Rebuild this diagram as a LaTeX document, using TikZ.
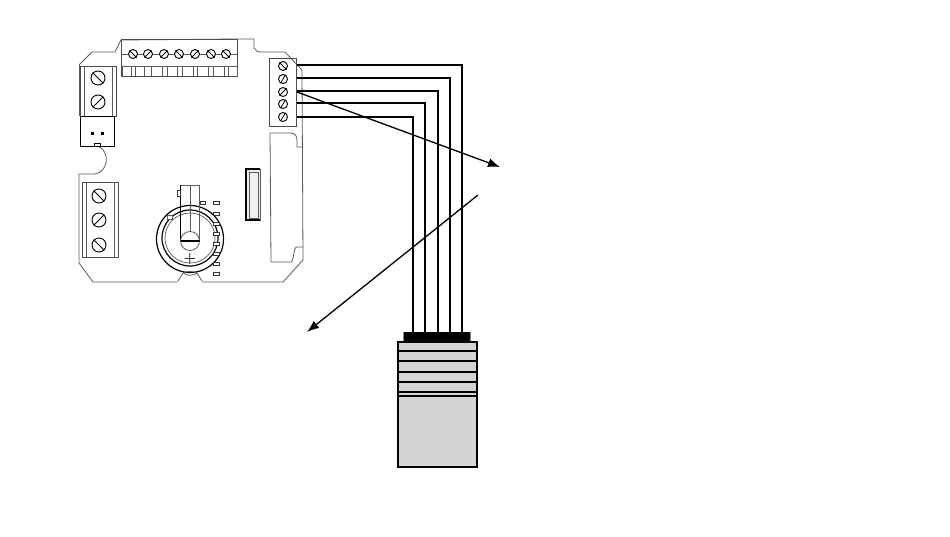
\documentclass[tikz,border=0pt]{standalone}
\usetikzlibrary{arrows.meta}
\definecolor{plug}{HTML}{D4D4D4}
\definecolor{edge}{HTML}{5A5A5A}
\tikzstyle{screw}=[circle,draw=black,fill=white,line width=0.9pt,inner sep=0pt,minimum size=14pt]
\tikzstyle{smallscrew}=[circle,draw=black,fill=white,line width=0.9pt,inner sep=0pt,minimum size=9pt]
\tikzstyle{outline}=[draw=edge,line width=0.8pt]
\tikzstyle{block}=[draw=black!70,line width=1pt]
\tikzstyle{wire}=[draw=black,line width=1.4pt]
\tikzstyle{pointer}=[draw=black,line width=1.3pt,-{Latex[length=12pt,width=9pt]}]
\tikzstyle{pad}=[draw=black!80,line width=0.8pt,fill=white]
\begin{document}
\begin{tikzpicture}[x=1pt,y=-1pt]
		\useasboundingbox (0,0) rectangle (950,536);

		% board
		\draw [outline] (79,65)--(92,52)--(115,52)--(121,40)--(237,39)--(254,39)--(254,48)
			.. controls (255,51) and (258,52) .. (262,52)--(285,52)--(302,70)--(303,260)--(283,282)--(202,282);
		\draw [outline] (178,282)--(93,282)--(79,263)--(79,174)--(95,174)
			.. controls (108,172) and (111,152) .. (98,146);
		\draw [outline] (79,65)--(79,116);
		\draw [outline] (270,133)--(291,133) .. controls (295,133) and (297,136) .. (297,140)--(297,147)--(303,147);
		\draw [outline] (270,133)--(271,262)--(291,262) .. controls (294,262) and (293,247) .. (297,247)--(303,247);

		% top terminal
		\draw [block] (121,39) rectangle (237,76);
		\draw [outline] (121,54)--(237,54);
		\draw [outline] (121,66)--(237,66);
		\foreach \xa/\xb in {122/131,135/144,151/162,167/177,182/193,197/208,213/224,228/237}
			\draw [draw=edge,line width=0.6pt] (\xa,76)--(\xa,66) (\xb,66)--(\xb,76);
		\foreach \sname/\sx/\sang in {t1/133/135,t2/148/45,t3/164/45,t4/179/135,t5/195/45,t6/211/135,t7/226/135}{
			\node (\sname) at (\sx,54) [smallscrew] {};
			\pgfmathtruncatemacro{\sopp}{\sang+180}
			\draw [line width=0.8pt] (\sname.\sang)--(\sname.\sopp);
		}

		% left terminals
		\draw [block] (80,66) rectangle (116,116);
		\draw [outline] (84,66)--(84,116);
		\draw [outline] (112,66)--(112,116);
		\draw [block] (82,182) rectangle (118,257);
		\draw [outline] (86,182)--(86,257);
		\draw [outline] (114,182)--(114,257);
		\foreach \sname/\sx/\sy/\sang in {l1/98/78/135,l2/98/102/45,l3/99/196/135,l4/99/220/45,l5/99/245/135}{
			\node (\sname) at (\sx,\sy) [screw] {};
			\pgfmathtruncatemacro{\sopp}{\sang+180}
			\draw [line width=0.8pt] (\sname.\sang)--(\sname.\sopp);
		}

		% jack
		\draw [draw=black,line width=1pt] (80,116) rectangle (114,146);
		\draw [draw=black,line width=0.8pt] (94,146)--(94,143)--(100,143)--(100,146);
		\fill (90.5,131.5) rectangle (93.5,134.5);
		\fill (100.5,131.5) rectangle (103.5,134.5);

		% right terminal
		\draw [block] (269,58) rectangle (296,126);
		\foreach \sname/\sy/\sang in {r1/66/135,r2/79/60,r3/92/45,r4/104/60,r5/117/60}{
			\node (\sname) at (283,\sy) [smallscrew] {};
			\pgfmathtruncatemacro{\sopp}{\sang+180}
			\draw [line width=0.8pt] (\sname.\sang)--(\sname.\sopp);
		}

		% chip
		\draw [draw=edge,line width=0.8pt,fill=black!6] (246,169) rectangle (260,220);
		\draw [draw=black,line width=1.2pt] (260,169)--(246,169)--(246,220)--(260,220);
		\draw [draw=edge,line width=0.5pt] (249,172) rectangle (258,218);

		% battery
		\node (cell) at (190,239) [circle,draw=black,line width=1.2pt,inner sep=0pt,minimum size=67pt] {};
		\node (cellb) at (190,238) [circle,draw=black,line width=1.2pt,inner sep=0pt,minimum size=56pt] {};
		\node (cellc) at (190,238) [circle,draw=edge,line width=0.7pt,inner sep=0pt,minimum size=50pt] {};
		\draw [draw=edge,line width=0.8pt] (180,241)--(180,185)--(199,185)--(199,241);
		\draw [draw=black,line width=0.9pt] (180,185)--(180,241);
		\draw [outline] (190,185)--(190,232);
		\draw [outline] (190,241) circle [radius=9.5];
		\draw [draw=black,line width=1.4pt] (180.5,241)--(199.5,241);
		\node (plus) at (190,258.5) [inner sep=0pt] {\Large\bfseries +};
		\draw [outline] (178,281)--(183,273) .. controls (187,271) and (193,271) .. (197,273)--(202,281);
		\draw [outline] (183,273) .. controls (187,276) and (193,276) .. (197,273);
		\draw [pad] (177,190) rectangle (180,196);
		\draw [draw=edge,line width=0.7pt,fill=white] (167,215) rectangle (172,219);
		\draw [pad] (200,201) rectangle (205,204);
		\foreach \py in {201,212,222,232,242,252,262,272}
			\draw [pad] (213,\py) rectangle (219,\py+3.5);

		% plug
		\fill [fill=edge!70] (403,332) rectangle (471,341);
		\node (cap) at (437,336.5) [draw=none,fill=black,inner sep=0pt,minimum width=66pt,minimum height=9pt] {};
		\node (plug) at (437.5,404.5) [draw=black,fill=plug,line width=1.6pt,inner sep=0pt,minimum width=79pt,minimum height=125pt] {};
		\foreach \py in {351,361,372,382,392,396}
			\draw [line width=1.4pt] (398,\py)--(477,\py);

		% wires
		\foreach \wname/\wx/\wy in {a/462/65,b/450/78,c/438/91,d/425/103,e/413/117}{
			\coordinate (\wname s) at (297,\wy);
			\coordinate (\wname k) at (\wx,\wy);
			\coordinate (\wname e) at (\wx,332);
			\draw [wire] (\wname s)--(\wname k)--(\wname e);
		}

		% arrows
		\coordinate (pa) at (297,92);
		\coordinate (pb) at (500,167);
		\coordinate (pc) at (478,195);
		\coordinate (pd) at (307,332);
		\draw [pointer] (pa)--(pb);
		\draw [pointer] (pc)--(pd);
	\end{tikzpicture}
\end{document}
